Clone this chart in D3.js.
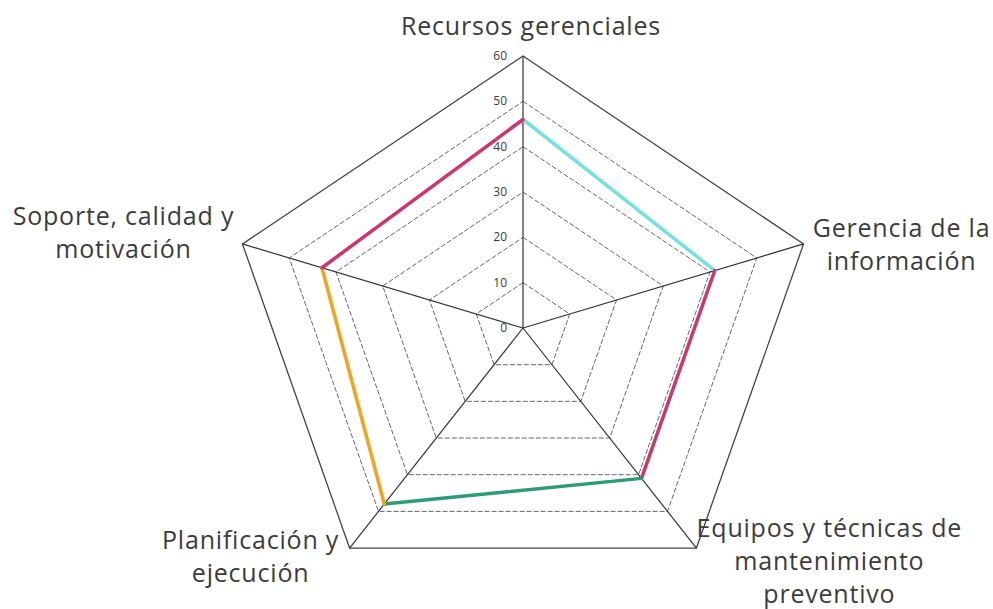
<!DOCTYPE html>
<html>
<head>
<meta charset="utf-8">
<script src="https://cdn.jsdelivr.net/npm/d3@7"></script>
<style>
  body { margin: 0; background: #fff; }
  svg { display: block; }
  text { font-family: "Open Sans", sans-serif; fill: #3c3c3c; }
</style>
</head>
<body>
<svg id="vis_svg" width="993" height="609"></svg>
<script>
// data
const axes = [
  ['Recursos gerenciales'],
  ['Gerencia de la', 'información'],
  ['Equipos y técnicas de', 'mantenimiento', 'preventivo'],
  ['Planificación y', 'ejecución'],
  ['Soporte, calidad y', 'motivación'],
];
const values = [46, 41, 41, 48, 43];
const tickValues = [0, 10, 20, 30, 40, 50, 60];
// one colour per edge, going clockwise from the top axis
const edgeColors = ['#72e2de', '#c93a6c', '#2e9c78', '#f4a41c', '#d0336e'];

const svg = d3.select('#vis_svg');

/**
 * Centre and radii of the web (the scanned original is a bit wider than tall).
 */
const cx = 523, cy = 328;
const rx = 295, ry = 272;

const rScale = d3.scaleLinear().domain([0, 60]).range([0, 1]);
const angle = d3.scalePoint().domain(d3.range(axes.length)).range([0, 2 * Math.PI * (axes.length - 1) / axes.length]);

const pos = (i, v) => {
  const a = angle(i);
  const r = rScale(v);
  return [cx + rx * r * Math.sin(a), cy - ry * r * Math.cos(a)];
};

const g = svg.append('g');

// grid pentagons
const levels = tickValues.filter((t) => t > 0);
g.selectAll('.grid')
  .data(levels)
  .enter()
  .append('polygon')
  .attr('points', (t) => axes.map((_, i) => pos(i, t).join(',')).join(' '))
  .attr('fill', 'none')
  .attr('stroke', (t) => (t === 60 ? '#444' : '#666'))
  .attr('stroke-width', (t) => (t === 60 ? 1.3 : 1))
  .attr('stroke-dasharray', (t) => (t === 60 ? null : '5,2'));

// spokes
g.selectAll('.spoke')
  .data(axes)
  .enter()
  .append('line')
  .attr('x1', cx)
  .attr('y1', cy)
  .attr('x2', (_, i) => pos(i, 60)[0])
  .attr('y2', (_, i) => pos(i, 60)[1])
  .attr('stroke', '#333')
  .attr('stroke-width', 1.2);

// tick labels on the top axis
g.selectAll('.tick')
  .data(tickValues)
  .enter()
  .append('text')
  .attr('x', cx - 16)
  .attr('y', (t) => pos(0, t)[1] + 4)
  .attr('text-anchor', 'end')
  .style('font-size', '12px')
  .text((t) => t);

// data edges, each coloured on its own
const pts = values.map((v, i) => pos(i, v));
g.selectAll('.edge')
  .data(pts)
  .enter()
  .append('line')
  .attr('x1', (d) => d[0])
  .attr('y1', (d) => d[1])
  .attr('x2', (_, i) => pts[(i + 1) % pts.length][0])
  .attr('y2', (_, i) => pts[(i + 1) % pts.length][1])
  .attr('stroke', (_, i) => edgeColors[i])
  .attr('stroke-width', 3.5)
  .attr('stroke-linecap', 'round');

// axis labels: offset from each outer vertex
const labelOffset = [
  [8, -21],
  [98, -7],
  [133, -11],
  [-99, 1],
  [-119, -19],
];
const lineH = 33;
axes.forEach((lines, i) => {
  const [vx, vy] = pos(i, 60);
  const t = g.append('text')
    .attr('x', vx + labelOffset[i][0])
    .attr('y', vy + labelOffset[i][1])
    .attr('text-anchor', 'middle')
    .style('font-size', '25px')
    .style('letter-spacing', '0.8px');
  lines.forEach((s, k) => {
    t.append('tspan')
      .attr('x', vx + labelOffset[i][0])
      .attr('dy', k === 0 ? 0 : lineH)
      .text(s);
  });
});
</script>
</body>
</html>
